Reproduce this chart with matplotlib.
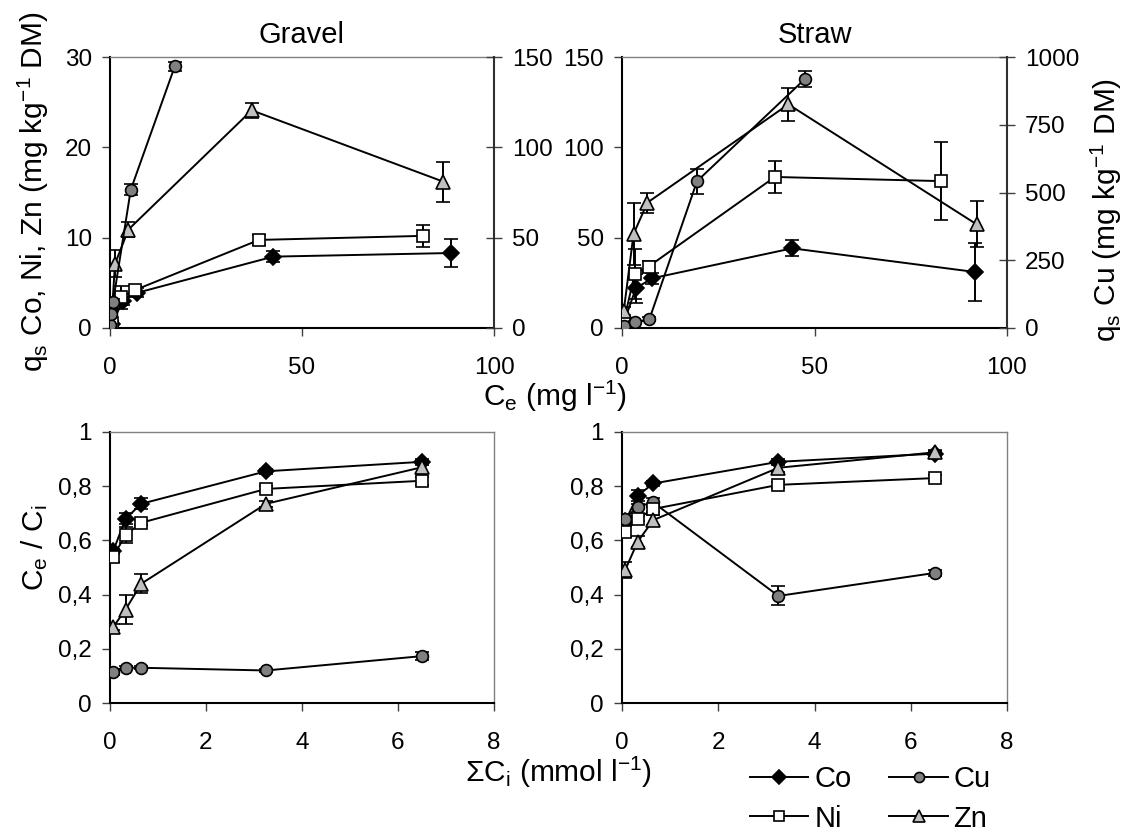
import matplotlib
matplotlib.use("Agg")
import matplotlib.pyplot as plt
from matplotlib.ticker import FuncFormatter
from matplotlib.lines import Line2D

plt.rcParams['font.family'] = ['Liberation Sans', 'DejaVu Sans']
plt.rcParams['mathtext.fontset'] = 'custom'
plt.rcParams['mathtext.rm'] = 'Liberation Sans'
plt.rcParams['mathtext.it'] = 'Liberation Sans:italic'

# ---------------- data ----------------
# Sorption isotherms: equilibrium concentration Ce (mg/l) and sorbed amount qs (mg/kg DM)
# Gravel
co_g_ce = [0.5, 3.3, 7.1, 42.5, 88.7]
co_g_qs = [0.4, 3.0, 3.9, 7.9, 8.3]
co_g_err = [0.2, 0.4, 0.5, 0.6, 1.55]
ni_g_ce = [0.5, 2.9, 6.5, 38.8, 81.6]
ni_g_qs = [0.5, 3.4, 4.2, 9.75, 10.2]
ni_g_err = [0.3, 1.3, 0.5, 0.6, 1.2]
zn_g_ce = [0.3, 1.3, 4.8, 36.9, 86.8]
zn_g_qs = [0.4, 7.1, 10.9, 24.1, 16.2]
zn_g_err = [0.3, 1.5, 0.8, 0.8, 2.2]
cu_g_ce = [0.1, 0.3, 0.8, 5.4, 16.9]
cu_g_qs = [1.5, 8.0, 14.5, 76.5, 145.0]
cu_g_err = [0.5, 1.0, 1.5, 3.0, 2.5]

# Straw
co_s_ce = [0.4, 3.6, 7.8, 44.2, 91.7]
co_s_qs = [2.5, 22.0, 27.5, 44.1, 31.0]
co_s_err = [1.0, 8.0, 3.0, 4.4, 16.0]
ni_s_ce = [0.4, 3.3, 6.9, 39.7, 82.9]
ni_s_qs = [3.0, 30.0, 34.0, 83.6, 81.3]
ni_s_err = [1.5, 14.0, 3.0, 9.0, 21.7]
zn_s_ce = [0.45, 3.0, 6.6, 43.2, 92.1]
zn_s_qs = [9.4, 52.0, 69.4, 123.8, 57.4]
zn_s_err = [2.0, 17.0, 5.5, 9.0, 12.7]
cu_s_ce = [0.6, 3.4, 7.1, 19.5, 47.6]
cu_s_qs = [8.0, 22.0, 32.0, 542.0, 920.0]
cu_s_err = [3.0, 5.0, 8.0, 46.0, 30.0]

# Ratio Ce/Ci versus total initial concentration (mmol/l)
ci_total = [0.065, 0.325, 0.65, 3.25, 6.5]
co_g_r = [0.56, 0.68, 0.735, 0.855, 0.89]
co_g_rerr = [0.01, 0.02, 0.02, 0.01, 0.01]
ni_g_r = [0.54, 0.62, 0.665, 0.79, 0.82]
ni_g_rerr = [0.02, 0.03, 0.01, 0.01, 0.015]
zn_g_r = [0.28, 0.345, 0.44, 0.735, 0.87]
zn_g_rerr = [0.01, 0.055, 0.035, 0.01, 0.02]
cu_g_r = [0.115, 0.13, 0.13, 0.12, 0.173]
cu_g_rerr = [0.01, 0.005, 0.005, 0.005, 0.015]

co_s_r = [0.67, 0.765, 0.81, 0.89, 0.92]
co_s_rerr = [0.01, 0.02, 0.01, 0.01, 0.01]
ni_s_r = [0.632, 0.68, 0.716, 0.805, 0.83]
ni_s_rerr = [0.02, 0.01, 0.01, 0.01, 0.01]
zn_s_r = [0.49, 0.595, 0.675, 0.868, 0.925]
zn_s_rerr = [0.03, 0.02, 0.02, 0.015, 0.01]
cu_s_r = [0.68, 0.725, 0.74, 0.395, 0.48]
cu_s_rerr = [0.01, 0.01, 0.015, 0.035, 0.01]

metals = ['Co', 'Cu', 'Ni', 'Zn']
styles = {
    'Co': dict(marker='D', mfc='black', ms=8),
    'Cu': dict(marker='o', mfc='#808080', ms=8.5),
    'Ni': dict(marker='s', mfc='white', ms=8.5),
    'Zn': dict(marker='^', mfc='#c0c0c0', ms=10),
}

TICK_FS = 17.5
LABEL_FS = 21.5

W, H = 1126, 840
fig = plt.figure(figsize=(W / 100, H / 100), dpi=100)


def rect(x0, y0, x1, y1):
    return [x0 / W, 1 - y1 / H, (x1 - x0) / W, (y1 - y0) / H]


def comma(v, pos):
    return ('%g' % v).replace('.', ',')


def series(ax, x, y, err, name):
    st = styles[name]
    ax.errorbar(x, y, yerr=err, color='black', lw=1.4, ecolor='black',
                elinewidth=1.4, capsize=5, capthick=1.4,
                marker=st['marker'], mfc=st['mfc'], mec='black', mew=1.2,
                ms=st['ms'], zorder=3)


def frame(ax):
    for s in ['left', 'bottom']:
        ax.spines[s].set_color('black')
        ax.spines[s].set_linewidth(1.5)
    for s in ['top', 'right']:
        ax.spines[s].set_color('#808080')
        ax.spines[s].set_linewidth(1.0)
    ax.tick_params(axis='both', labelsize=TICK_FS, width=1.0, color='#404040')
    ax.tick_params(axis='y', direction='out', length=6, pad=7)
    ax.tick_params(axis='x', direction='out', length=6, pad=15)


# ---------------- top: isotherms ----------------
ax_g = fig.add_axes(rect(110, 57, 494, 328))
ax_gr = ax_g.twinx()
ax_s = fig.add_axes(rect(622, 57, 1007, 328))
ax_sr = ax_s.twinx()

for ax, axr, data, ylim_l, ylim_r, yt_l, yt_r in [
    (ax_g, ax_gr,
     dict(Co=(co_g_ce, co_g_qs, co_g_err), Ni=(ni_g_ce, ni_g_qs, ni_g_err),
          Zn=(zn_g_ce, zn_g_qs, zn_g_err), Cu=(cu_g_ce, cu_g_qs, cu_g_err)),
     30, 150, [0, 10, 20, 30], [0, 50, 100, 150]),
    (ax_s, ax_sr,
     dict(Co=(co_s_ce, co_s_qs, co_s_err), Ni=(ni_s_ce, ni_s_qs, ni_s_err),
          Zn=(zn_s_ce, zn_s_qs, zn_s_err), Cu=(cu_s_ce, cu_s_qs, cu_s_err)),
     150, 1000, [0, 50, 100, 150], [0, 250, 500, 750, 1000]),
]:
    series(ax, *data['Co'], 'Co')
    series(axr, *data['Cu'], 'Cu')
    series(ax, *data['Ni'], 'Ni')
    series(ax, *data['Zn'], 'Zn')
    ax.set_xlim(0, 100)
    ax.set_ylim(0, ylim_l)
    axr.set_ylim(0, ylim_r)
    ax.set_xticks([0, 50, 100])
    ax.set_yticks(yt_l)
    axr.set_yticks(yt_r)
    frame(ax)
    frame(axr)
    axr.spines['right'].set_color('#303030')
    axr.spines['right'].set_linewidth(1.5)
    axr.tick_params(axis='y', direction='inout', length=12, pad=7)
    for s in ['left', 'bottom', 'top']:
        axr.spines[s].set_visible(False)
    ax.spines['right'].set_visible(False)
    axr.set_zorder(ax.get_zorder() + 1)
    axr.patch.set_visible(False)

ax_g.set_title('Gravel', fontsize=21, pad=10)
ax_s.set_title('Straw', fontsize=21, pad=10)

# ---------------- bottom: Ce/Ci ----------------
ax_gb = fig.add_axes(rect(110, 432, 494, 703))
ax_sb = fig.add_axes(rect(622, 432, 1007, 703))

for ax, rdata in [
    (ax_gb, dict(Co=(co_g_r, co_g_rerr), Cu=(cu_g_r, cu_g_rerr),
                 Ni=(ni_g_r, ni_g_rerr), Zn=(zn_g_r, zn_g_rerr))),
    (ax_sb, dict(Co=(co_s_r, co_s_rerr), Cu=(cu_s_r, cu_s_rerr),
                 Ni=(ni_s_r, ni_s_rerr), Zn=(zn_s_r, zn_s_rerr))),
]:
    for m in metals:
        series(ax, ci_total, rdata[m][0], rdata[m][1], m)
    ax.set_xlim(0, 8)
    ax.set_ylim(0, 1)
    ax.set_xticks([0, 2, 4, 6, 8])
    ax.set_yticks([0, 0.2, 0.4, 0.6, 0.8, 1.0])
    ax.yaxis.set_major_formatter(FuncFormatter(comma))
    frame(ax)

# ---------------- axis titles ----------------
fig.text(33 / W, 1 - 192 / H,
         r'q$_\mathregular{s}$ Co, Ni, Zn (mg kg$^\mathregular{-1}$ DM)',
         rotation=90, ha='center', va='center', fontsize=LABEL_FS)
fig.text(1106 / W, 1 - 210 / H,
         r'q$_\mathregular{s}$ Cu (mg kg$^\mathregular{-1}$ DM)',
         rotation=90, ha='center', va='center', fontsize=LABEL_FS)
fig.text(35 / W, 1 - 548 / H,
         r'C$_\mathregular{e}$ / C$_\mathregular{i}$',
         rotation=90, ha='center', va='center', fontsize=LABEL_FS)
fig.text(555 / W, 1 - 396 / H,
         r'C$_\mathregular{e}$ (mg l$^\mathregular{-1}$)',
         ha='center', va='center', fontsize=LABEL_FS)
fig.text(559 / W, 1 - 772 / H,
         r'ΣC$_\mathregular{i}$ (mmol l$^\mathregular{-1}$)',
         ha='center', va='center', fontsize=LABEL_FS)

# ---------------- legend ----------------
handles = []
for m in ['Co', 'Ni', 'Cu', 'Zn']:
    st = styles[m]
    handles.append(Line2D([], [], color='black', lw=1.4, marker=st['marker'],
                          mfc=st['mfc'], mec='black', mew=1.2,
                          ms=st['ms'] * 0.85, label=m))
fig.legend(handles=handles, ncol=2, frameon=False, fontsize=21,
           loc='upper left', bbox_to_anchor=(750 / W, 1 - 765 / H),
           handlelength=2.0, handletextpad=0.2, columnspacing=1.3,
           labelspacing=0.4, borderaxespad=0, borderpad=0)

fig.savefig('out.png', dpi=100)
